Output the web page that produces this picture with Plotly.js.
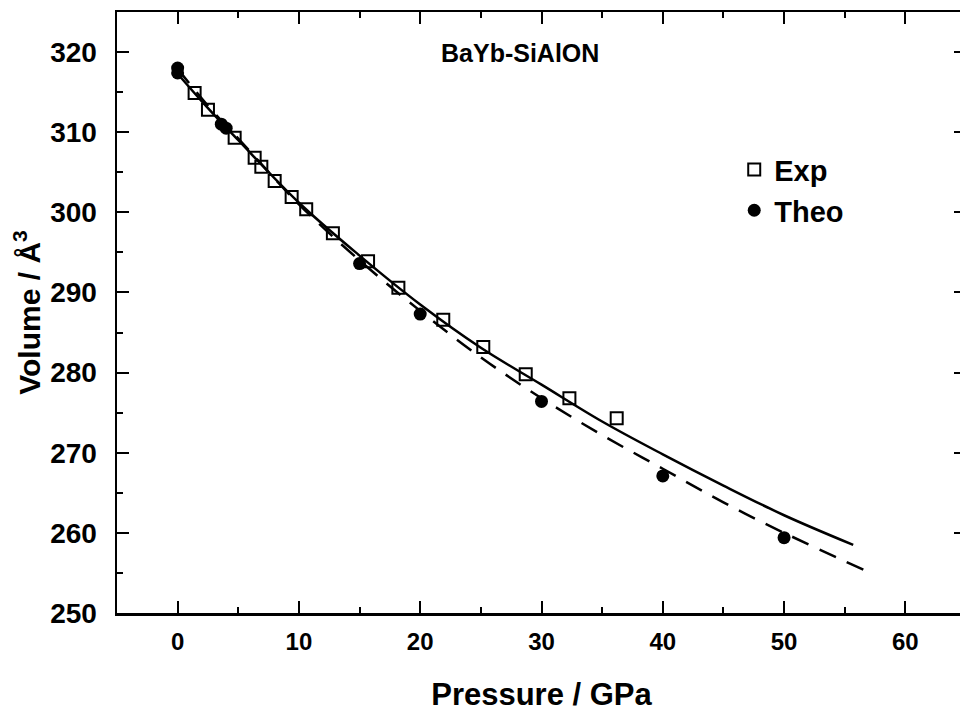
<!DOCTYPE html>
<html>
<head>
<meta charset="utf-8">
<script src="https://cdn.plot.ly/plotly-3.0.1.min.js"></script>
<style>
html,body{margin:0;padding:0;overflow:hidden;background:#fff;}
#chart{width:975px;height:717px;}
</style>
</head>
<body>
<div id="chart"></div>
<script>
// Experimental data (squares)
const expP = [1.4, 2.5, 4.7, 6.35, 6.9, 8.0, 9.4, 10.6, 12.8, 15.7, 18.2, 21.9, 25.2, 28.7, 32.3, 36.2];
const expV = [314.9, 312.8, 309.3, 306.8, 305.7, 303.9, 301.9, 300.4, 297.4, 293.9, 290.6, 286.6, 283.2, 279.8, 276.8, 274.3];
// Theoretical data (circles)
const theoP = [0, 0, 3.6, 4.0, 15, 20, 30, 40, 50];
const theoV = [318.0, 317.4, 311.0, 310.5, 293.6, 287.3, 276.4, 267.1, 259.4];
// Fit curves
const expFitP = [0, 2.5, 5, 10, 15, 20, 25, 30, 35, 40, 45, 50, 55.7];
const expFitV = [317.3, 313.0, 309.0, 301.2, 294.6, 288.5, 283.1, 278.5, 273.9, 269.8, 265.9, 262.2, 258.5];
const theoFitP = [0, 2.5, 5, 10, 15, 20, 25, 30, 35, 40, 45, 50, 56.7];
const theoFitV = [317.9, 313.3, 309.2, 301.0, 294.0, 287.7, 281.9, 276.8, 272.2, 268.0, 263.8, 260.0, 255.3];
const xTicks = [0, 10, 20, 30, 40, 50, 60];
const yTicks = [250, 260, 270, 280, 290, 300, 310, 320];

const FONT = 'Liberation Sans, Arial, Helvetica, sans-serif';

const traces = [
  {x: expFitP, y: expFitV, mode: 'lines', line: {color: '#000', width: 2.5, shape: 'spline'}, showlegend: false, hoverinfo: 'skip'},
  {x: theoFitP, y: theoFitV, mode: 'lines', line: {color: '#000', width: 2.5, dash: '18px,12px', shape: 'spline'}, showlegend: false, hoverinfo: 'skip'},
  {x: expP, y: expV, mode: 'markers', name: 'Exp', legendgroup: 'a',
   marker: {symbol: 'square-open', size: 12, color: '#000', line: {width: 2, color: '#000'}}},
  {x: theoP, y: theoV, mode: 'markers', name: 'Theo', legendgroup: 'b',
   marker: {symbol: 'circle', size: 13, color: '#000', line: {width: 0}}}
];

const axisCommon = {
  showline: true, linecolor: '#000', linewidth: 2.5, mirror: 'allticks',
  ticks: 'inside', ticklen: 12, tickwidth: 2, tickcolor: '#000',
  showgrid: false, zeroline: false,
  minor: {ticks: 'inside', ticklen: 6, tickwidth: 2, tickcolor: '#000', dtick: 5, showgrid: false}
};

const layout = {
  width: 975, height: 717,
  margin: {l: 117, r: 9, t: 12, b: 104},
  paper_bgcolor: '#fff', plot_bgcolor: '#fff',
  font: {family: FONT, color: '#000'},
  showlegend: true,
  legend: {x: 0.727, y: 0.78, xanchor: 'left', yanchor: 'top', tracegroupgap: 0,
           font: {family: FONT, size: 29, color: '#000', weight: 'bold'}, bgcolor: 'rgba(0,0,0,0)'},
  xaxis: Object.assign({}, axisCommon, {
    range: [-5, 65], tickvals: xTicks, ticktext: xTicks.map(String),
    tickfont: {family: FONT, size: 24, weight: 'bold'}, ticklabelstandoff: 6,
    title: {text: 'Pressure / GPa', font: {family: FONT, size: 31, weight: 'bold'}, standoff: 29}
  }),
  yaxis: Object.assign({}, axisCommon, {
    range: [250, 325], tickvals: yTicks, ticktext: yTicks.map(String),
    tickfont: {family: FONT, size: 28, weight: 'bold'}, ticklabelstandoff: 12,
    title: {text: 'Volume / Å<sup>3</sup>', font: {family: FONT, size: 30, weight: 'bold'}, standoff: 1}
  }),
  annotations: [{
    text: 'BaYb-SiAlON', xref: 'paper', yref: 'paper', x: 0.475, y: 0.932,
    xanchor: 'center', yanchor: 'middle', showarrow: false,
    font: {family: FONT, size: 25, weight: 'bold', color: '#000'}
  }]
};

Plotly.newPlot('chart', traces, layout, {displayModeBar: false, staticPlot: true});
</script>
</body>
</html>
